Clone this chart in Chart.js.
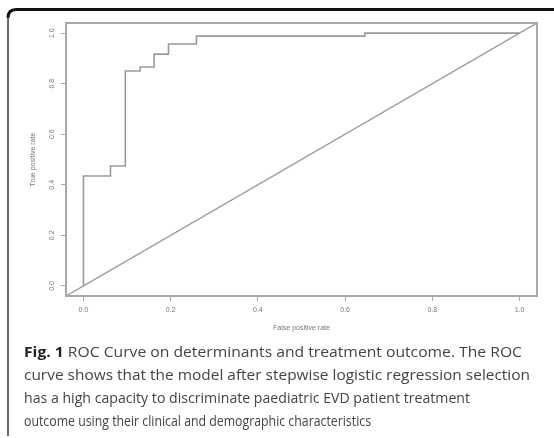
<!DOCTYPE html>
<html>
<head>
  <script src="https://cdn.jsdelivr.net/npm/chart.js@4/dist/chart.umd.min.js"></script>
  <style>
    body { margin: 0; background: #fff; }
    #wrap { position: relative; width: 554px; height: 438px; }
  </style>
</head>
<body>
  <div id="wrap">
    <canvas id="roc" width="554" height="438"></canvas>
  </div>
  <script>
// ROC curve (false positive rate, true positive rate)
const fpr = [0, 0, 0.062, 0.096, 0.13, 0.162, 0.195, 0.259, 0.645, 1.0];
const tpr = [0, 0.435, 0.474, 0.85, 0.866, 0.917, 0.957, 0.988, 1.0, 1.0];
// reference diagonal y = x (abline, runs over the whole plot region, clipped)
const diagX = [-0.2, 1.2];
const diagY = [-0.2, 1.2];
const tickVals = [0, 0.2, 0.4, 0.6, 0.8, 1.0];
const xTitle = 'False positive rate';
const yTitle = 'True positive rate';
const captionBold = 'Fig. 1';
const captionLines = [
  ' ROC Curve on determinants and treatment outcome. The ROC',
  'curve shows that the model after stepwise logistic regression selection',
  'has a high capacity to discriminate paediatric EVD patient treatment',
  'outcome using their clinical and demographic characteristics'
];
// right end of each caption line in the figure
const captionEnds = [522, 530, 470, 371];

const lineCol = '#9a9a9a';
const textCol = '#777';
const smallFont = '7px "Liberation Sans"';

const extras = {
  id: 'extras',
  afterDraw(chart) {
    const ctx = chart.ctx;
    const a = chart.chartArea;
    const ys = chart.scales.y;
    ctx.save();
    // plot box
    ctx.strokeStyle = '#a8a8a8';
    ctx.lineWidth = 2;
    ctx.strokeRect(a.left, a.top, a.right - a.left, a.bottom - a.top);

    // y tick labels, rotated like R
    ctx.fillStyle = textCol;
    ctx.font = smallFont;
    ctx.textAlign = 'center';
    ctx.textBaseline = 'middle';
    tickVals.forEach(v => {
      ctx.save();
      ctx.translate(52, ys.getPixelForValue(v));
      ctx.rotate(-Math.PI / 2);
      ctx.fillText(v.toFixed(1), 0, 0);
      ctx.restore();
    });
    // axis titles
    ctx.save();
    ctx.translate(33, (a.top + a.bottom) / 2);
    ctx.rotate(-Math.PI / 2);
    ctx.fillText(yTitle, 0, 0);
    ctx.restore();
    ctx.fillText(xTitle, (a.left + a.right) / 2, 328);

    // figure frame
    ctx.strokeStyle = '#111';
    ctx.lineWidth = 3;
    ctx.beginPath();
    ctx.moveTo(554, 9.5);
    ctx.lineTo(16, 9.5);
    ctx.quadraticCurveTo(8, 9.5, 8, 18);
    ctx.stroke();
    ctx.strokeStyle = '#444';
    ctx.lineWidth = 1.6;
    ctx.beginPath();
    ctx.moveTo(8, 17);
    ctx.lineTo(8, 436);
    ctx.stroke();

    // caption, each line squeezed to its width in the figure
    const size = 14.5;
    const x0 = 24;
    const lineY = [353, 376, 399, 422];
    const bold = 'bold ' + size + 'px "Open Sans"';
    const reg = size + 'px "Open Sans"';
    ctx.textAlign = 'left';
    ctx.textBaseline = 'middle';
    captionLines.forEach((t, i) => {
      let bw = 0;
      if (i === 0) { ctx.font = bold; bw = ctx.measureText(captionBold).width; }
      ctx.font = reg;
      const w = bw + ctx.measureText(t).width;
      const k = (captionEnds[i] - x0) / w;
      ctx.save();
      ctx.translate(x0, lineY[i]);
      ctx.scale(k, 1);
      if (i === 0) {
        ctx.font = bold;
        ctx.fillStyle = '#222';
        ctx.fillText(captionBold, 0, 0);
      }
      ctx.font = reg;
      ctx.fillStyle = '#444';
      ctx.fillText(t, bw, 0);
      ctx.restore();
    });
    ctx.restore();
  }
};

const axisCommon = {
  type: 'linear',
  min: -0.04,
  max: 1.04,
  afterBuildTicks: s => { s.ticks = tickVals.map(v => ({ value: v })); },
  grid: {
    display: true,
    drawOnChartArea: false,
    drawTicks: true,
    tickLength: 5,
    color: '#a8a8a8',
    lineWidth: 1
  },
  border: { display: false }
};

new Chart(document.getElementById('roc'), {
  type: 'scatter',
  data: {
    datasets: [
      {
        label: 'ROC',
        data: fpr.map((x, i) => ({ x: x, y: tpr[i] })),
        showLine: true,
        stepped: 'before',
        borderColor: lineCol,
        borderWidth: 1.6,
        pointRadius: 0,
        fill: false
      },
      {
        label: 'diagonal',
        data: diagX.map((x, i) => ({ x: x, y: diagY[i] })),
        showLine: true,
        borderColor: lineCol,
        borderWidth: 1.4,
        pointRadius: 0,
        fill: false,
        clip: 0
      }
    ]
  },
  options: {
    responsive: false,
    animation: false,
    layout: { padding: { top: 23, right: 17, left: 0, bottom: 0 } },
    plugins: { legend: { display: false }, tooltip: { enabled: false } },
    scales: {
      x: Object.assign({}, axisCommon, {
        position: 'bottom',
        ticks: {
          color: textCol,
          font: { family: 'Liberation Sans', size: 7 },
          padding: 5,
          maxRotation: 0,
          callback: v => Number(v).toFixed(1)
        },
        afterFit: s => { s.height = 438 - 296; s.paddingLeft = 0; s.paddingRight = 0; }
      }),
      y: Object.assign({}, axisCommon, {
        position: 'left',
        ticks: { display: false },
        afterFit: s => { s.width = 66; s.paddingTop = 0; s.paddingBottom = 0; }
      })
    }
  },
  plugins: [extras]
});
  </script>
</body>
</html>
